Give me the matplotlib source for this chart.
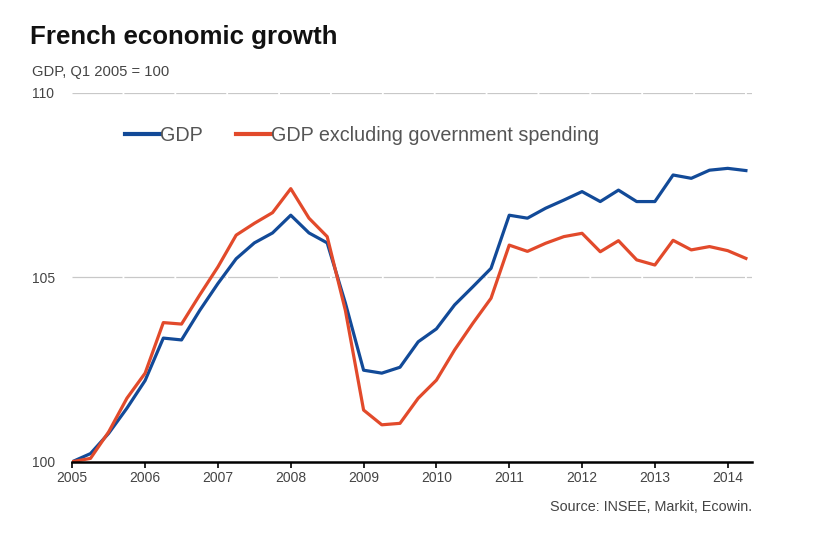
import numpy as np
import matplotlib.pyplot as plt

# quarterly, Q1 2005 .. Q2 2014
quarters = np.arange(38) / 4.0 + 2005

gdp = [100.0, 100.22, 100.77, 101.45, 102.2, 103.35, 103.3, 104.1,
       104.83, 105.5, 105.93, 106.2, 106.68, 106.2, 105.93, 104.3,
       102.48, 102.4, 102.56, 103.25, 103.6, 104.25, 104.74, 105.24,
       106.68, 106.6, 106.87, 107.09, 107.32, 107.05, 107.36, 107.05,
       107.05, 107.77, 107.68, 107.9, 107.95, 107.89]

gdp_ex_gov = [100.0, 100.09, 100.81, 101.72, 102.4, 103.77, 103.73, 104.52,
              105.28, 106.14, 106.46, 106.75, 107.4, 106.6, 106.1, 104.1,
              101.4, 101.0, 101.04, 101.72, 102.21, 103.03, 103.75, 104.43,
              105.87, 105.7, 105.92, 106.1, 106.19, 105.69, 105.99, 105.47,
              105.33, 106.0, 105.74, 105.83, 105.72, 105.51]

years = list(range(2005, 2015))
yticks = [100, 105, 110]

blue = '#124a98'
orange = '#e24a2b'
txt = '#444444'

plt.rcParams['font.family'] = ['Liberation Sans', 'DejaVu Sans']

fig = plt.figure(figsize=(8.3, 5.39), dpi=100)
ax = fig.add_axes([0.0871, 0.1434, 0.9057 - 0.0871, 0.828 - 0.1434])

ax.plot(quarters, gdp, color=blue, lw=2.3, label='GDP', solid_joinstyle='round')
ax.plot(quarters, gdp_ex_gov, color=orange, lw=2.3,
        label='GDP excluding government spending', solid_joinstyle='round')

ax.set_xlim(2005, 2014.33)
ax.set_ylim(100, 110)
ax.set_xticks(years)
ax.set_xticklabels([str(y) for y in years], fontsize=10, color=txt)
ax.set_yticks(yticks)
ax.set_yticklabels([str(v) for v in yticks], fontsize=10, color=txt, ha='left')
ax.tick_params(axis='y', length=0, pad=29)
ax.tick_params(axis='x', length=4, width=1.2, color='black', pad=3)

for v in yticks[1:]:
    ax.axhline(v, color='#c8c8c8', lw=0.9, dashes=(40, 1.5), zorder=0)

for s in ['top', 'right', 'left']:
    ax.spines[s].set_visible(False)
ax.spines['bottom'].set_linewidth(1.8)
ax.spines['bottom'].set_color('black')

leg = ax.legend(loc='center left', bbox_to_anchor=(0.0776, 0.883), ncol=2,
                frameon=False, fontsize=14.2, handlelength=1.78,
                handletextpad=0.0, columnspacing=1.68, borderpad=0,
                borderaxespad=0)
for t in leg.get_texts():
    t.set_color('#555555')
for h in leg.get_lines():
    h.set_linewidth(3)

fig.text(30 / 830, 1 - 37 / 539, 'French economic growth', fontsize=18.6,
         fontweight='bold', va='center', ha='left', color='#111111')
fig.text(32 / 830, 1 - 72 / 539, 'GDP, Q1 2005 = 100', fontsize=10.6,
         va='center', ha='left', color=txt)
fig.text(752 / 830, 1 - 507 / 539, 'Source: INSEE, Markit, Ecowin.',
         fontsize=10.4, va='center', ha='right', color=txt)

fig.savefig('out.png', dpi=100, facecolor='white')
